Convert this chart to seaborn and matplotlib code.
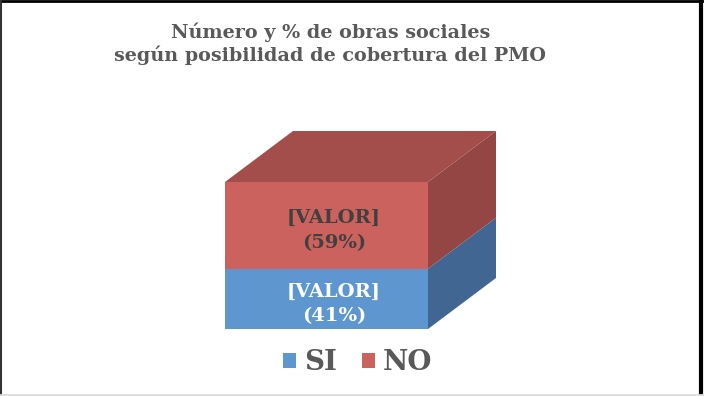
import matplotlib.pyplot as plt
import seaborn as sns
import pandas as pd
from matplotlib.patches import Polygon, Patch
from matplotlib.lines import Line2D
from matplotlib.font_manager import FontProperties

# datos
categorias = ['SI', 'NO']
porcentajes = [41, 59]
etiquetas = ['[VALOR]\n(41%)', '[VALOR]\n(59%)']
titulo = 'Número y % de obras sociales\nsegún posibilidad de cobertura del PMO'

color_frente = {'SI': '#5E97D0', 'NO': '#CC625D'}
color_lado = {'SI': '#426692', 'NO': '#934643'}
color_tapa = '#A34E4A'
color_texto = {'SI': 'white', 'NO': '#404040'}

sns.set_theme(style='white')
plt.rcParams['font.family'] = ['DejaVu Serif']

fig = plt.figure(figsize=(7.04, 3.96), dpi=100)
ax = fig.add_axes([225 / 704, 67 / 396, 203 / 704, 147 / 396])

# barras apiladas: se dibuja el acumulado de atras hacia adelante
acum = pd.Series(porcentajes, index=categorias).cumsum()
for cat in reversed(categorias):
    df = pd.DataFrame({'grupo': ['PMO'], 'valor': [acum[cat]]})
    sns.barplot(data=df, x='grupo', y='valor', color=color_frente[cat],
                saturation=1, width=0.8, ax=ax, linewidth=0)

ax.set_xlim(-0.4, 0.4)
ax.set_ylim(0, 100)
ax.set_axis_off()

# profundidad 3D
dx, dy = 68 / 203 * 0.8, 51 / 147 * 100
bar = ax.patches[0]
x0, x1 = bar.get_x(), bar.get_x() + bar.get_width()
abajo = 0
for cat, val in zip(categorias, porcentajes):
    arriba = abajo + val
    lado = Polygon([(x1, abajo), (x1 + dx, abajo + dy), (x1 + dx, arriba + dy), (x1, arriba)],
                   closed=True, facecolor=color_lado[cat], edgecolor='none', clip_on=False)
    ax.add_patch(lado)
    abajo = arriba
tapa = Polygon([(x0, abajo), (x0 + dx, abajo + dy), (x1 + dx, abajo + dy), (x1, abajo)],
               closed=True, facecolor=color_tapa, edgecolor='none', clip_on=False)
ax.add_patch(tapa)

# etiquetas
abajo = 0
for cat, val, txt in zip(categorias, porcentajes, etiquetas):
    ax.text(0.03, abajo + val / 2 - 3.5, txt, ha='center', va='center', fontsize=14,
            fontweight='bold', color=color_texto[cat], linespacing=1.5)
    abajo += val

fig.text(0.469, 0.889, titulo, ha='center', va='center', fontsize=13.8,
         fontweight='bold', color='#595959', linespacing=1.25)

handles = [Patch(facecolor=color_frente[c], edgecolor='none') for c in categorias]
fuente_leyenda = FontProperties(family='DejaVu Serif', weight='bold', size=20)
leg = fig.legend(handles, categorias, loc='center', bbox_to_anchor=(358 / 704, 1 - 363 / 396),
                 ncol=2, frameon=False, prop=fuente_leyenda, handlelength=0.45,
                 handleheight=0.45, handletextpad=0.3, columnspacing=0.9,
                 labelcolor='#595959')

# marco
fig.add_artist(Line2D([0, 1], [0.997, 0.997], color='black', lw=2))
fig.add_artist(Line2D([0.002, 0.002], [0, 1], color='#333333', lw=1.5))
fig.add_artist(Line2D([0.996, 0.996], [0, 1], color='black', lw=3))
fig.add_artist(Line2D([0, 1], [0.003, 0.003], color='#dddddd', lw=2))

fig.savefig('out.png', dpi=100)
